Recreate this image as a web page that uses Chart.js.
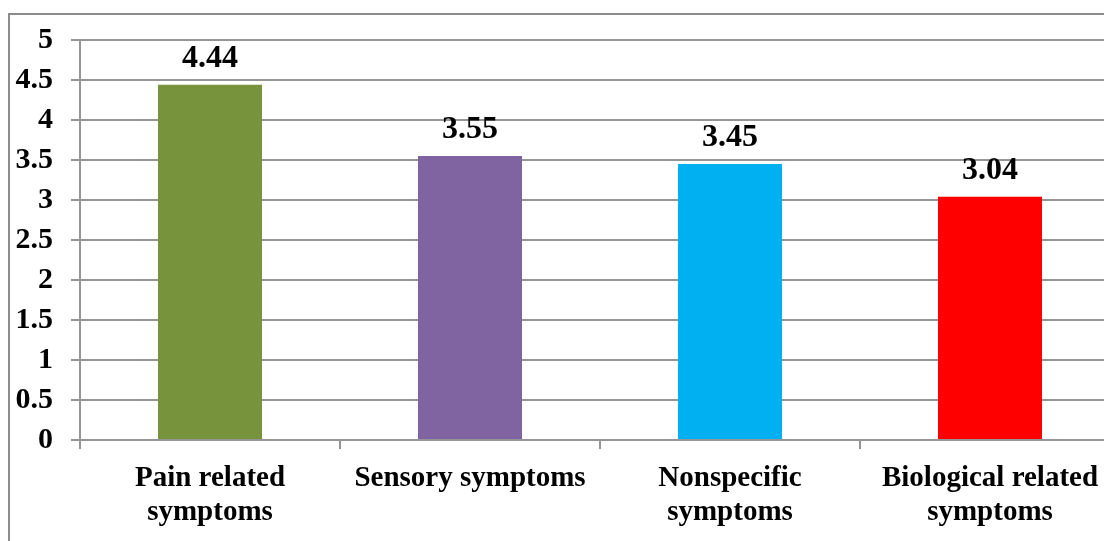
<!DOCTYPE html>
<html>
<head>
<meta charset="utf-8">
<script src="https://cdn.jsdelivr.net/npm/chart.js@4.4.0/dist/chart.umd.min.js"></script>
<style>
  html, body { margin: 0; padding: 0; background: #fff; overflow: hidden; }
  .frame { position: absolute; left: 8px; top: 13px; width: 1200px; height: 600px;
           border-left: 2px solid #8c8c8c; border-top: 2px solid #8c8c8c; }
  .chart-container { position: absolute; left: 0; top: 0; width: 1140px; height: 541px; }
</style>
</head>
<body>
<div class="frame"></div>
<div class="chart-container">
  <canvas id="chart"></canvas>
</div>
<script>
const categories = [
  ['Pain related', 'symptoms'],
  'Sensory symptoms',
  ['Nonspecific', 'symptoms'],
  ['Biological related', 'symptoms']
];
const scores = [4.44, 3.55, 3.45, 3.04];
const barColors = ['#77933C', '#8064A2', '#00B0F0', '#FF0000'];
const yTicks = [0, 0.5, 1, 1.5, 2, 2.5, 3, 3.5, 4, 4.5, 5];

const FONT = "'Liberation Serif', 'Times New Roman', serif";
const GRID = '#959595';

// draws the numbers above each bar
const valueLabels = {
  id: 'valueLabels',
  afterDatasetsDraw(chart) {
    const ctx = chart.ctx;
    const meta = chart.getDatasetMeta(0);
    ctx.save();
    ctx.font = 'bold 32px ' + FONT;
    ctx.fillStyle = '#000';
    ctx.textAlign = 'center';
    ctx.textBaseline = 'alphabetic';
    meta.data.forEach((bar, i) => {
      ctx.fillText(scores[i].toFixed(2), bar.x, bar.y - 18);
    });
    ctx.restore();
  }
};

const ctx = document.getElementById('chart').getContext('2d');
new Chart(ctx, {
  type: 'bar',
  data: {
    labels: categories,
    datasets: [{
      data: scores,
      backgroundColor: barColors,
      borderWidth: 0,
      categoryPercentage: 1,
      barPercentage: 0.4
    }]
  },
  options: {
    responsive: true,
    maintainAspectRatio: false,
    animation: false,
    layout: { padding: { top: 40, right: 20, left: 0, bottom: 0 } },
    plugins: {
      legend: { display: false },
      tooltip: { enabled: false }
    },
    scales: {
      x: {
        grid: { drawOnChartArea: false, drawTicks: true, tickLength: 9, color: GRID, lineWidth: 2 },
        border: { color: GRID, width: 2 },
        ticks: {
          color: '#000',
          maxRotation: 0,
          autoSkip: false,
          padding: 13,
          font: { family: FONT, size: 29, weight: 'bold', lineHeight: 1.17 }
        },
        afterFit(scale) { scale.height = 101; }
      },
      y: {
        min: 0,
        max: 5,
        afterBuildTicks(scale) { scale.ticks = yTicks.map(v => ({ value: v })); },
        grid: { color: GRID, lineWidth: 2, tickLength: 9 },
        border: { color: GRID, width: 2 },
        ticks: {
          color: '#000',
          padding: 18,
          font: { family: FONT, size: 30, weight: 'bold' },
          callback: (v) => String(v)
        },
        afterFit(scale) { scale.width = 80; }
      }
    }
  },
  plugins: [valueLabels]
});
</script>
</body>
</html>
